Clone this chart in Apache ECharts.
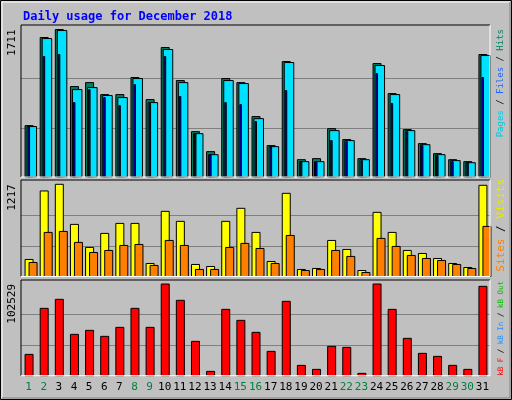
<!DOCTYPE html>
<html><head><meta charset="utf-8">
<script src="https://cdn.jsdelivr.net/npm/echarts@6/dist/echarts.min.js"></script>
<style>html,body{margin:0;padding:0;background:#C0C0C0}#c{width:512px;height:400px}</style>
</head><body><div id="c"></div>
<script>
const days = ['1','2','3','4','5','6','7','8','9','10','11','12','13','14','15','16','17','18','19','20','21','22','23','24','25','26','27','28','29','30','31'];
const weekend = ['1','2','8','9','15','16','22','23','29','30'];
const hits  = [596,1618,1711,1049,1095,956,956,1154,898,1502,1119,526,294,1142,1095,701,364,1339,201,213,561,434,213,1316,968,550,387,271,201,178,1421];
const files = [585,1606,1699,1014,1037,945,921,1142,863,1479,1095,503,259,1119,1084,677,352,1328,178,178,538,422,201,1293,956,538,375,259,190,166,1409];
const pages = [585,1397,1421,863,1014,921,828,1072,852,1397,933,503,259,863,840,643,352,1003,178,178,422,410,190,1200,852,526,364,248,178,166,1154];
const visits = [225,1129,1217,688,384,569,701,701,172,860,728,159,132,728,900,582,198,1098,93,106,476,357,79,847,582,344,304,238,172,119,1204];
const sites  = [185,582,595,450,317,344,410,423,146,476,410,93,93,384,437,370,172,542,79,93,344,265,53,503,397,278,238,212,159,106,661];
const kbytes = [23860,75310,85380,46230,50700,43990,54060,75310,54060,102529,84260,38400,4847,74190,61890,48470,27220,83140,11560,7083,32810,31690,2610,102529,74190,41760,24980,21620,11560,7083,99920];
const maxLabels = [1711, 1217, 102529];

const chart = echarts.init(document.getElementById('c'));
const font = 'DejaVu Sans Mono';
const grids = [
  {left:21, right:22, top:25, height:152, k:152/147.5},
  {left:21, right:22, top:180, height:96.5, k:96.5/92.2},
  {left:21, right:22, top:280, height:95.7, k:95.7/91.7}
];
function yAx(i){
  const M = maxLabels[i];
  return {type:'value', gridIndex:i, min:0, max:M*grids[i].k, interval:M/3,
    axisLine:{show:false}, axisTick:{show:false},
    splitLine:{show:true, lineStyle:{color:['transparent','#808080','#808080','transparent','transparent'], width:1}},
    axisLabel:{rotate:90, align:'right', verticalAlign:'bottom', margin:3, fontFamily:font, fontSize:11, color:'#000',
      formatter:v=>Math.abs(v-M)<1e-6*M?String(M):''}};
}
function xAx(i){
  return {type:'category', gridIndex:i, data:days, boundaryGap:true,
    axisLine:{show:false}, axisTick:{show:false}, splitLine:{show:false},
    axisLabel:{show:i===2, margin:6, fontFamily:font, fontSize:11, interval:0,
      color:(v)=>weekend.includes(v)?'#008040':'#000'}};
}
function barSeries(i, data, color, x0, x1, z){
  return {type:'custom', xAxisIndex:i, yAxisIndex:i, z:z, data:data.map((v,j)=>[j,v]),
    renderItem:(params, api)=>{
      const top = api.coord([api.value(0), api.value(1)]);
      const base = api.coord([api.value(0), 0]);
      return {type:'rect', shape:{x:top[0]+x0, y:top[1], width:x1-x0, height:base[1]-top[1]},
        style:{fill:color, stroke:'#000', lineWidth:1}};
    }};
}
const frameGraphics = [];
grids.forEach(g=>{
  const x0=g.left, x1=512-g.right, y0=g.top, y1=g.top+g.height;
  frameGraphics.push({type:'polyline', shape:{points:[[x0,y1],[x0,y0],[x1,y0]]}, style:{stroke:'#000', fill:null, lineWidth:1}, z:10});
  frameGraphics.push({type:'polyline', shape:{points:[[x1,y0],[x1,y1],[x0,y1]]}, style:{stroke:'#fff', fill:null, lineWidth:1}, z:10});
});
function legend(y, size, parts){
  const f = size+'px '+font;
  return {type:'text', x:501, y:y, rotation:Math.PI/2, z:20,
    style:{text:parts.map(p=>'{'+p[0]+'|'+p[1]+'}').join(''), align:'right', verticalAlign:'middle',
      font:f, rich:Object.fromEntries(parts.map(p=>[p[0],{fill:p[2], font:f}]))}};
}
chart.setOption({
  backgroundColor:'#C0C0C0', animation:false,
  title:{text:'Daily usage for December 2018', left:18, top:6, textStyle:{fontFamily:font, fontSize:12, fontWeight:'bold', color:'#0000FF'}},
  grid:grids.map(g=>({left:g.left, right:g.right, top:g.top, height:g.height, show:false})),
  xAxis:[xAx(0),xAx(1),xAx(2)],
  yAxis:[yAx(0),yAx(1),yAx(2)],
  series:[
    barSeries(0, hits, '#008060', -3.5, 4.5, 2),
    barSeries(0, files, '#00E0FF', -1.5, 8, 3),
    barSeries(0, pages, '#0000FF', -0.5, 1, 4),
    barSeries(1, visits, '#FFFF00', -3.5, 4.5, 2),
    barSeries(1, sites, '#FF8000', 0.5, 8.5, 3),
    barSeries(2, kbytes, '#FF0000', -3.5, 4.5, 2)
  ],
  graphic:[
    {type:'rect', shape:{x:0.5,y:0.5,width:511,height:399}, style:{fill:null, stroke:'#000', lineWidth:1}, z:20},
    {type:'polyline', shape:{points:[[2,398],[2,2],[510,2]]}, style:{stroke:'#fff', fill:null}, z:20},
    {type:'polyline', shape:{points:[[510,2],[510,398],[2,398]]}, style:{stroke:'#808080', fill:null}, z:20},
    ...frameGraphics,
    legend(29, 9, [['p','Pages','#00C8E0'],['s',' / ','#000'],['f','Files','#1E64FF'],['t',' / ','#000'],['h','Hits','#008060']]),
    legend(179, 11, [['s','Sites','#FF8000'],['a',' / ','#000'],['v','Visits','#E8E800']]),
    legend(281, 7.5, [['k','kB F','#FF0000'],['a',' / ','#000'],['i','kB In','#1E90FF'],['b',' / ','#000'],['o','kB Out','#00C000']])
  ]
});
</script></body></html>
